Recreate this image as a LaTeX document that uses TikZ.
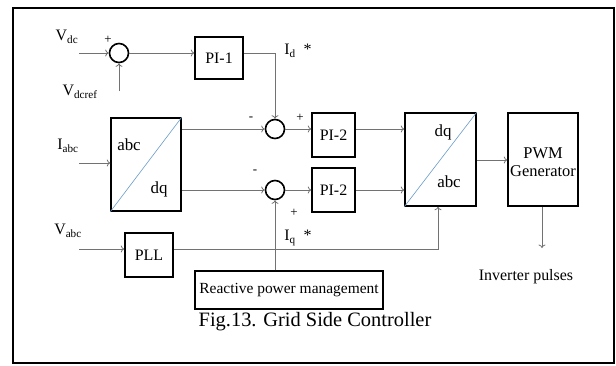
\documentclass[tikz,border=0pt]{standalone}
\usepackage{fontspec}
\setmainfont{Liberation Serif}
\usetikzlibrary{arrows.meta}
\definecolor{linegray}{HTML}{727272}
\definecolor{diagblue}{HTML}{6A9CC8}
\begin{document}
\begin{tikzpicture}[x=1bp,y=-1bp,
  blk/.style={draw=black,line width=1.5bp,fill=white,inner sep=0pt,font=\fontsize{16}{18}\selectfont},
  sumnode/.style={draw=black,line width=1.6bp,circle,minimum size=19bp,inner sep=0pt},
  conn/.style={draw=linegray,line width=0.8bp,-{To[length=3.5bp,width=7bp]}},
  lbl/.style={font=\fontsize{16}{18}\selectfont,inner sep=0pt},
  sgn/.style={font=\fontsize{13}{15}\selectfont,inner sep=0pt},
  diag/.style={draw=diagblue,line width=0.6bp}]
\useasboundingbox (0,0) rectangle (616,365);
\fill[white] (0,0) rectangle (616,365);
\draw[line width=1.6bp] (13,8) rectangle (614,363);

% summing junctions
\node[sumnode] (s1) at (119,53) {};
\node[sumnode] (s2) at (275,129) {};
\node[sumnode] (s3) at (275,190) {};

% blocks
\node[blk,minimum width=48bp,minimum height=42bp] (pi1) at (219,58) {PI-1};
\node[blk,minimum width=70bp,minimum height=93bp] (t1) at (146,164.5) {};
\node[blk,minimum width=43bp,minimum height=44bp] (pi2a) at (333.5,135) {PI-2};
\node[blk,minimum width=43bp,minimum height=44bp] (pi2b) at (333.5,190) {PI-2};
\node[blk,minimum width=71bp,minimum height=93bp] (t2) at (440.5,159.5) {};
\node[blk,minimum width=70bp,minimum height=93bp,align=center,font=\fontsize{16.5}{18}\selectfont] (pwm) at (543,159.5) {\\[-2bp]PWM\\Generator};
\node[blk,minimum width=48bp,minimum height=44bp] (pll) at (149,255) {PLL};
\node[blk,minimum width=188bp,minimum height=38bp,font=\fontsize{15.5}{17}\selectfont] (rpm) at (289,290) {Reactive power management};

% transform diagonals and labels
\draw[diag] (t1.south west) -- (t1.north east);
\draw[diag] (t2.south west) -- (t2.north east);
\node[lbl,font=\fontsize{17}{19}\selectfont] (t1a) at (129,145) {abc};
\node[lbl,font=\fontsize{17}{19}\selectfont] (t1b) at (159,189) {dq};
\node[lbl,font=\fontsize{17}{19}\selectfont] (t2a) at (443,132) {dq};
\node[lbl,font=\fontsize{17}{19}\selectfont] (t2b) at (449,182) {abc};

% input coordinates
\coordinate (vdcin) at (79,53);
\coordinate (vrefin) at (119,91);
\coordinate (iabcin) at (79,163);
\coordinate (vabcin) at (79,249);
\coordinate (pulse) at (542,248);

% connectors
\draw[conn] (vdcin) -- (s1.west);
\draw[conn] (vrefin) -- (s1.south);
\draw[conn] (s1.east) -- (s1.east -| pi1.west);
\draw[conn] (s1.east -| pi1.east) -| (s2.north);
\draw[conn] (iabcin) -- (iabcin -| t1.west);
\draw[conn] (s2.west -| t1.east) -- (s2.west);
\draw[conn] (s3.west -| t1.east) -- (s3.west);
\draw[conn] (s2.east) -- (s2.east -| pi2a.west);
\draw[conn] (s3.east) -- (pi2b.west);
\draw[conn] (s2.east -| pi2a.east) -- (s2.east -| t2.west);
\draw[conn] (pi2b.east) -- (pi2b.east -| t2.west);
\draw[conn] (rpm.north -| s3.south) -- (s3.south);
\draw[conn] (vabcin) -- (vabcin -| pll.west);
\draw[conn] (vabcin -| pll.east) -| (t2.south -| 438,0);
\draw[conn] (t2.east |- 0,160) -- (pwm.west |- 0,160);
\draw[conn] (pwm.south -| pulse) -- (pulse);

% labels
\node[lbl] (lvdc) at (67,37) {V\textsubscript{dc}};
\node[lbl] (lvref) at (80,92) {V\textsubscript{dcref}};
\node[lbl] (liabc) at (68,146) {I\textsubscript{abc}};
\node[lbl] (lvabc) at (68,231) {V\textsubscript{abc}};
\node[lbl] (lid) at (298,51) {I\textsubscript{d}\ \ *};
\node[lbl] (liq) at (298,238) {I\textsubscript{q}\ \ *};
\node[sgn] (p1) at (108,40) {+};
\node[sgn] (m2) at (251,119) {-};
\node[sgn] (p2) at (300,118) {+};
\node[sgn] (m3) at (255,172) {-};
\node[sgn] (p3) at (294,213) {+};
\node[lbl,font=\fontsize{16}{18}\selectfont] (inv) at (526,277) {Inverter pulses};
\node[lbl,font=\fontsize{20.5}{22}\selectfont] (cap) at (315,322) {Fig.13. Grid Side Controller};
\end{tikzpicture}
\end{document}
